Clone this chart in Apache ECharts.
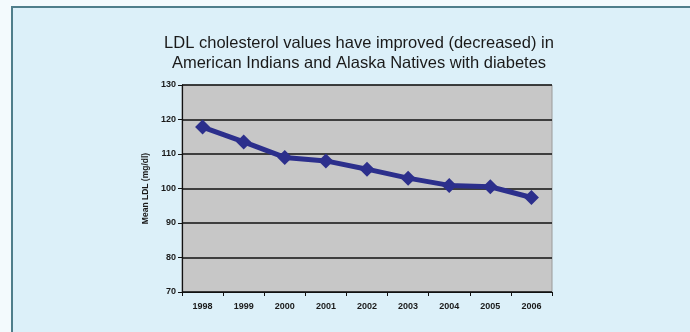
<!DOCTYPE html>
<html>
<head>
<meta charset="utf-8">
<script src="https://cdn.jsdelivr.net/npm/echarts@6/dist/echarts.min.js"></script>
<style>
  html, body { margin: 0; padding: 0; background: #f3fafd; }
  #chart { width: 690px; height: 332px; }
</style>
</head>
<body>
<div id="chart"></div>
<script>
// Survey years and mean LDL cholesterol (mg/dl)
const years = ['1998', '1999', '2000', '2001', '2002', '2003', '2004', '2005', '2006'];
const meanLdl = [117.8, 113.5, 109.0, 108.0, 105.6, 103.0, 100.9, 100.5, 97.4];
const yTicks = [70, 80, 90, 100, 110, 120, 130];

const chart = echarts.init(document.getElementById('chart'), null, { renderer: 'canvas' });

const tickFont = { fontFamily: '"Liberation Sans", Arial, sans-serif', fontSize: 9, fontWeight: 'bold', color: '#1a1a1a' };

chart.setOption({
  animation: false,
  backgroundColor: '#f3fafd',
  graphic: [
    {
      type: 'rect', z: -10, silent: true,
      shape: { x: 12, y: 7, width: 700, height: 340 },
      style: { fill: '#dcf0f9', stroke: '#4f7e8b', lineWidth: 2 }
    }
  ],
  title: {
    text: 'LDL cholesterol values have improved (decreased) in\nAmerican Indians and Alaska Natives with diabetes',
    left: 354, top: 28, textAlign: 'center',
    textStyle: {
      fontFamily: '"Liberation Sans", Arial, sans-serif',
      fontSize: 16.5, fontWeight: 'normal', color: '#1a1a1a', lineHeight: 20
    }
  },
  grid: {
    left: 182, right: 138, top: 85, bottom: 40,
    show: true, backgroundColor: '#c7c7c7', borderColor: '#9a9a9a', borderWidth: 1
  },
  xAxis: {
    type: 'category', data: years, boundaryGap: true,
    axisLine: { lineStyle: { color: '#111', width: 1.2 } },
    axisTick: { show: true, length: 4, lineStyle: { color: '#111' } },
    axisLabel: Object.assign({ margin: 10 }, tickFont)
  },
  yAxis: {
    type: 'value', min: yTicks[0], max: yTicks[yTicks.length - 1], interval: 10,
    name: 'Mean LDL (mg/dl)', nameLocation: 'middle', nameGap: 32, nameRotate: 90,
    nameTextStyle: { fontFamily: '"Liberation Sans", Arial, sans-serif', fontSize: 8.5, fontWeight: 'bold', color: '#1a1a1a' },
    axisLine: { show: true, lineStyle: { color: '#111', width: 1.2 } },
    axisTick: { show: true, length: 4, lineStyle: { color: '#111' } },
    axisLabel: Object.assign({ margin: 6 }, tickFont),
    splitLine: { lineStyle: { color: '#111', width: 1.5 } }
  },
  series: [{
    type: 'line', data: meanLdl,
    symbol: 'diamond', symbolSize: 15,
    lineStyle: { color: '#2c2f8c', width: 5 },
    itemStyle: { color: '#2c2f8c' }
  }]
});
</script>
</body>
</html>
